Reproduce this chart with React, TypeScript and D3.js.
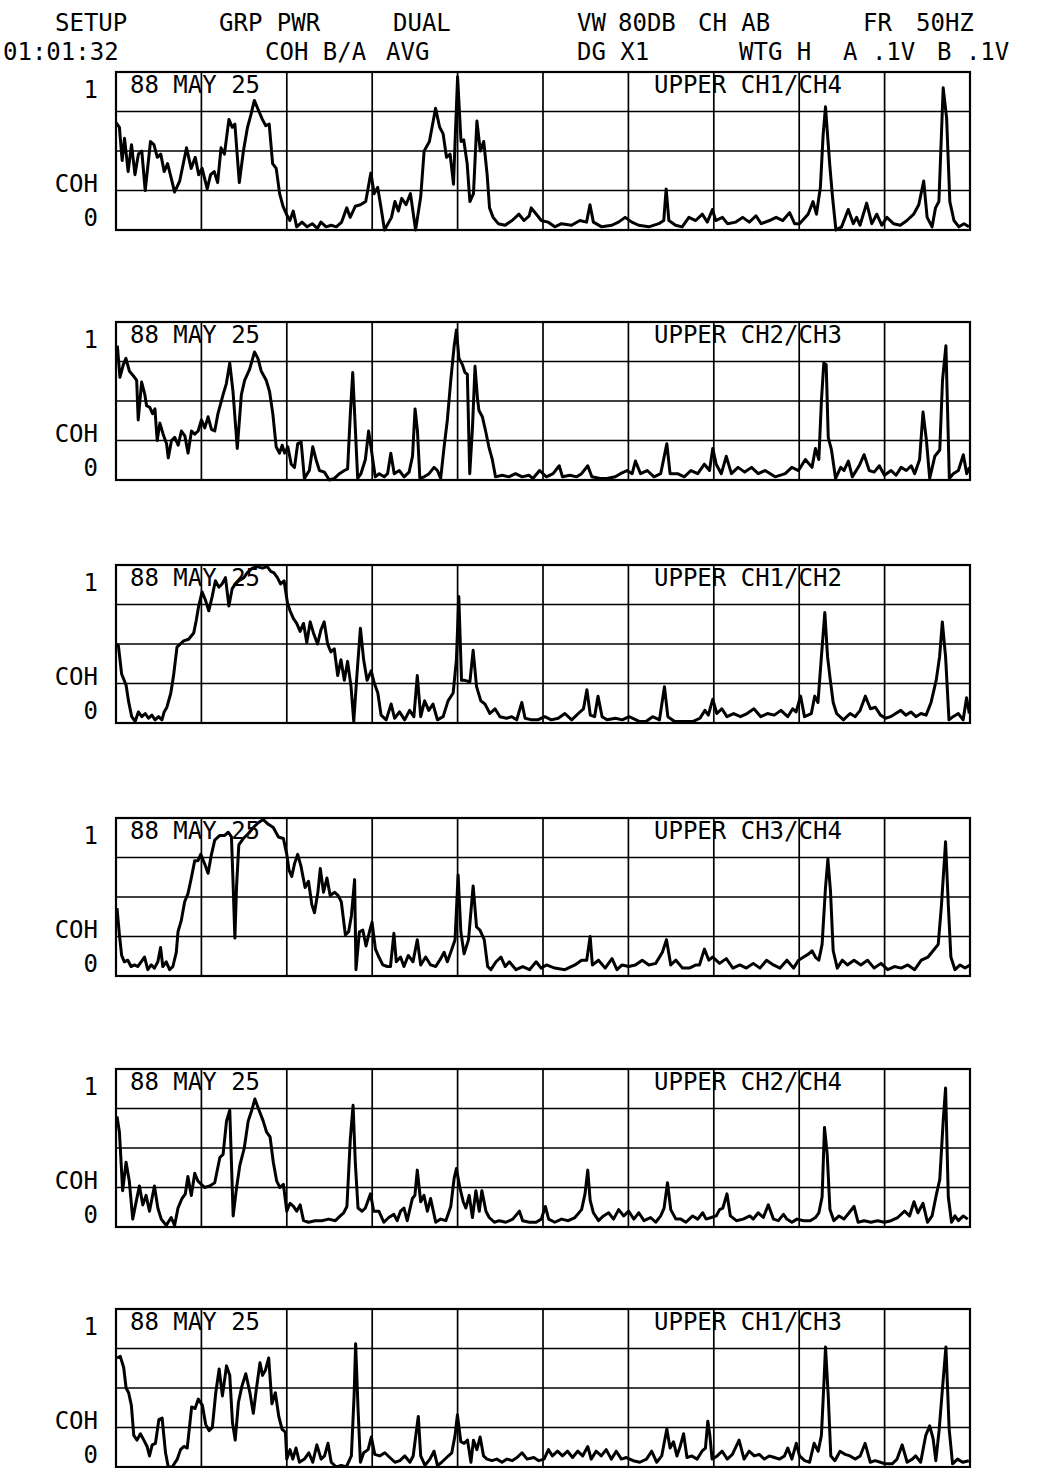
import { useEffect, useRef } from "react";
import * as d3 from "d3";

// header text (two rows of plotter settings)
const headerRow1 = ["SETUP", "GRP PWR", "DUAL", "VW", "80DB", "CH AB", "FR", "50HZ"];
const headerRow2 = ["01:01:32", "COH B/A", "AVG", "DG X1", "WTG H", "A .1V", "B .1V"];

const dateLabel = "88 MAY 25";
const yLabels = ["1", "COH", "0"];
const panelLabels = [
  "UPPER CH1/CH4",
  "UPPER CH2/CH3",
  "UPPER CH1/CH2",
  "UPPER CH3/CH4",
  "UPPER CH2/CH4",
  "UPPER CH1/CH3",
];

// frequency (Hz, 0-50) / coherence (0-1)
const ch14: [number, number][] = [
  [0, 0.68], [0.2, 0.65], [0.36, 0.44], [0.5, 0.58], [0.71, 0.37], [0.91, 0.54], [1.11, 0.35], [1.31, 0.48],
  [1.51, 0.5], [1.71, 0.25], [2.02, 0.56], [2.22, 0.54], [2.42, 0.46], [2.62, 0.48], [2.82, 0.37], [3.02, 0.42],
  [3.23, 0.33], [3.43, 0.24], [3.73, 0.31], [4.13, 0.52], [4.4, 0.39], [4.64, 0.46], [4.84, 0.35], [5.04, 0.39],
  [5.34, 0.26], [5.54, 0.35], [5.75, 0.37], [5.95, 0.3], [6.15, 0.52], [6.35, 0.48], [6.61, 0.7], [6.81, 0.65],
  [6.96, 0.67], [7.22, 0.3], [7.46, 0.5], [7.7, 0.65], [7.9, 0.73], [8.1, 0.82], [8.37, 0.75], [8.57, 0.7],
  [8.77, 0.66], [8.97, 0.67], [9.17, 0.42], [9.38, 0.39], [9.58, 0.23], [9.78, 0.15], [9.98, 0.1], [10.18, 0.06],
  [10.38, 0.12], [10.58, 0.02], [10.89, 0.05], [11.19, 0.02], [11.49, 0.04], [11.79, 0.01], [12, 0.05], [12.3, 0.02],
  [12.6, 0.03], [12.9, 0.02], [13.21, 0.05], [13.51, 0.14], [13.71, 0.08], [14.01, 0.15], [14.31, 0.16], [14.62, 0.18],
  [14.92, 0.36], [15.12, 0.23], [15.32, 0.27], [15.52, 0.14], [15.72, 0], [16.13, 0.08], [16.33, 0.18], [16.53, 0.12],
  [16.73, 0.2], [16.98, 0.16], [17.24, 0.23], [17.54, 0], [17.84, 0.21], [18.04, 0.5], [18.35, 0.56], [18.71, 0.77],
  [18.95, 0.65], [19.15, 0.61], [19.35, 0.46], [19.56, 0.48], [19.76, 0.29], [19.86, 0.58], [20, 0.97], [20.2, 0.56],
  [20.36, 0.57], [20.56, 0.42], [20.72, 0.18], [20.93, 0.23], [21.13, 0.69], [21.33, 0.5], [21.53, 0.56], [21.73, 0.35],
  [21.87, 0.14], [22.08, 0.08], [22.38, 0.04], [22.78, 0.03], [23.19, 0.06], [23.59, 0.1], [23.89, 0.06], [24.19, 0.09],
  [24.31, 0.14], [24.61, 0.1], [24.9, 0.06], [25.29, 0.05], [25.69, 0.02], [26.08, 0.04], [26.67, 0.03], [27.16, 0.06],
  [27.55, 0.05], [27.75, 0.16], [27.95, 0.05], [28.44, 0.02], [29.03, 0.03], [29.42, 0.05], [29.81, 0.08], [30.2, 0.05],
  [30.6, 0.03], [31.19, 0.02], [31.78, 0.04], [32.07, 0.06], [32.21, 0.26], [32.37, 0.06], [32.76, 0.03], [33.15, 0.02],
  [33.54, 0.08], [33.94, 0.06], [34.33, 0.1], [34.62, 0.05], [34.92, 0.13], [35.11, 0.06], [35.51, 0.08], [35.8, 0.04],
  [36.29, 0.05], [36.69, 0.08], [37.08, 0.05], [37.47, 0.09], [37.77, 0.04], [38.26, 0.06], [38.65, 0.08], [39.04, 0.06],
  [39.44, 0.11], [39.73, 0.04], [40.02, 0.04], [40.52, 0.1], [40.81, 0.18], [41.01, 0.1], [41.24, 0.27], [41.4, 0.6],
  [41.54, 0.78], [41.66, 0.6], [41.79, 0.41], [41.95, 0.21], [42.15, 0], [42.48, 0.02], [42.87, 0.13], [43.17, 0.04],
  [43.36, 0.08], [43.56, 0.03], [43.95, 0.17], [44.25, 0.04], [44.54, 0.1], [44.84, 0.03], [45.13, 0.08], [45.52, 0.04],
  [45.92, 0.03], [46.31, 0.06], [46.7, 0.1], [47, 0.16], [47.29, 0.31], [47.49, 0.08], [47.78, 0.02], [47.98, 0.14],
  [48.18, 0.18], [48.43, 0.9], [48.63, 0.71], [48.82, 0.18], [49.06, 0.06], [49.35, 0.02], [49.65, 0.04], [49.94, 0.02],
];

const ch23: [number, number][] = [
  [0.08, 0.85], [0.23, 0.65], [0.43, 0.73], [0.58, 0.77], [0.78, 0.69], [1.01, 0.66], [1.21, 0.63], [1.3, 0.38],
  [1.5, 0.62], [1.69, 0.54], [1.79, 0.47], [1.98, 0.46], [2.14, 0.42], [2.28, 0.45], [2.41, 0.25], [2.57, 0.36],
  [2.76, 0.29], [2.96, 0.23], [3.06, 0.14], [3.25, 0.25], [3.44, 0.27], [3.64, 0.22], [3.83, 0.31], [4.03, 0.28],
  [4.22, 0.17], [4.42, 0.31], [4.61, 0.29], [4.81, 0.31], [5, 0.38], [5.2, 0.33], [5.39, 0.4], [5.59, 0.32],
  [5.78, 0.31], [5.97, 0.42], [6.27, 0.54], [6.46, 0.61], [6.66, 0.74], [6.85, 0.56], [7.1, 0.2], [7.34, 0.54],
  [7.53, 0.63], [7.82, 0.7], [8.11, 0.81], [8.31, 0.77], [8.5, 0.69], [8.8, 0.63], [8.99, 0.56], [9.18, 0.42],
  [9.38, 0.21], [9.57, 0.17], [9.73, 0.22], [9.87, 0.17], [10.06, 0.21], [10.26, 0.1], [10.45, 0.08], [10.64, 0.23],
  [10.84, 0.24], [11.03, 0.01], [11.32, 0.06], [11.52, 0.21], [11.71, 0.13], [11.91, 0.06], [12.2, 0.05], [12.49, 0],
  [12.79, 0.01], [13.08, 0.04], [13.37, 0.06], [13.56, 0.07], [13.72, 0.42], [13.86, 0.68], [14.01, 0.33], [14.15, 0.01],
  [14.34, 0.04], [14.6, 0.13], [14.79, 0.31], [14.98, 0.17], [15.18, 0.02], [15.41, 0.04], [15.7, 0.02], [15.9, 0.04],
  [16.09, 0.17], [16.29, 0.04], [16.58, 0.06], [16.87, 0.02], [17.16, 0.05], [17.36, 0.15], [17.51, 0.45], [17.65, 0.31],
  [17.79, 0.01], [18.04, 0.02], [18.33, 0.04], [18.62, 0.08], [18.82, 0.06], [19.01, 0.01], [19.21, 0.21], [19.4, 0.38],
  [19.6, 0.63], [19.79, 0.84], [19.93, 0.95], [20.08, 0.77], [20.28, 0.73], [20.43, 0.68], [20.57, 0.67], [20.71, 0.04],
  [20.87, 0.33], [21.02, 0.72], [21.16, 0.52], [21.25, 0.44], [21.45, 0.4], [21.64, 0.31], [21.83, 0.21], [22.03, 0.13],
  [22.22, 0.02], [22.61, 0.03], [23, 0.02], [23.39, 0.04], [23.78, 0.02], [24.17, 0.03], [24.41, 0.01], [24.8, 0.06],
  [25.2, 0.02], [25.59, 0.04], [25.95, 0.09], [26.14, 0.02], [26.58, 0.03], [26.97, 0.02], [27.26, 0.04], [27.62, 0.09],
  [27.86, 0.02], [28.35, 0.01], [28.74, 0.01], [29.23, 0.02], [29.53, 0.04], [29.92, 0.06], [30.22, 0.04], [30.41, 0.12],
  [30.71, 0.04], [31.1, 0.06], [31.5, 0.02], [31.89, 0.04], [32.25, 0.23], [32.44, 0.04], [32.88, 0.04], [33.27, 0.02],
  [33.66, 0.06], [34.06, 0.04], [34.45, 0.1], [34.75, 0.06], [34.94, 0.2], [35.14, 0.1], [35.44, 0.04], [35.73, 0.15],
  [36.03, 0.04], [36.42, 0.08], [36.81, 0.05], [37.21, 0.08], [37.6, 0.04], [38, 0.06], [38.59, 0.02], [39.18, 0.04],
  [39.57, 0.08], [39.96, 0.06], [40.36, 0.13], [40.75, 0.08], [40.95, 0.2], [41.15, 0.13], [41.3, 0.5], [41.44, 0.74],
  [41.58, 0.73], [41.7, 0.27], [41.89, 0.19], [42.13, 0.01], [42.43, 0.08], [42.62, 0.06], [42.88, 0.12], [43.11, 0.02],
  [43.51, 0.09], [43.8, 0.16], [44.1, 0.06], [44.39, 0.05], [44.69, 0.09], [44.99, 0.03], [45.38, 0.06], [45.67, 0.03],
  [45.97, 0.08], [46.27, 0.06], [46.56, 0.09], [46.76, 0.04], [47.05, 0.13], [47.25, 0.43], [47.45, 0.25], [47.64, 0.01],
  [47.94, 0.15], [48.23, 0.19], [48.39, 0.63], [48.59, 0.85], [48.79, 0.01], [49.02, 0.04], [49.32, 0.06], [49.61, 0.16],
  [49.81, 0.04], [49.97, 0.08],
];

const ch12: [number, number][] = [
  [0, 0.5], [0.14, 0.49], [0.33, 0.31], [0.59, 0.24], [0.73, 0.14], [0.92, 0.04], [1.12, 0.01], [1.31, 0.07],
  [1.51, 0.04], [1.71, 0.06], [1.9, 0.03], [2.1, 0.05], [2.29, 0.02], [2.49, 0.04], [2.69, 0.02], [2.82, 0.07],
  [2.98, 0.1], [3.21, 0.19], [3.37, 0.3], [3.57, 0.48], [3.76, 0.5], [3.96, 0.52], [4.25, 0.53], [4.55, 0.57],
  [4.7, 0.65], [4.84, 0.74], [5.04, 0.83], [5.23, 0.78], [5.43, 0.71], [5.63, 0.8], [5.82, 0.9], [6.02, 0.86],
  [6.21, 0.88], [6.41, 0.92], [6.61, 0.74], [6.8, 0.85], [7, 0.88], [7.19, 0.9], [7.49, 0.92], [7.68, 0.95],
  [7.98, 0.98], [8.27, 0.99], [8.57, 0.98], [8.86, 0.99], [9.06, 0.96], [9.25, 0.95], [9.45, 0.92], [9.64, 0.88],
  [9.84, 0.9], [10.04, 0.76], [10.19, 0.71], [10.39, 0.66], [10.58, 0.63], [10.78, 0.58], [10.98, 0.63], [11.17, 0.51],
  [11.37, 0.64], [11.56, 0.57], [11.8, 0.5], [12, 0.59], [12.19, 0.64], [12.39, 0.5], [12.58, 0.45], [12.78, 0.47],
  [12.98, 0.3], [13.17, 0.4], [13.37, 0.27], [13.56, 0.39], [13.76, 0.23], [13.92, 0.01], [14.11, 0.31], [14.31, 0.6],
  [14.5, 0.4], [14.7, 0.27], [14.94, 0.33], [15.13, 0.25], [15.33, 0.19], [15.52, 0.05], [15.82, 0.02], [16.11, 0.12],
  [16.31, 0.03], [16.6, 0.07], [16.9, 0.02], [17.19, 0.08], [17.44, 0.04], [17.64, 0.3], [17.84, 0.04], [18.07, 0.14],
  [18.31, 0.08], [18.56, 0.12], [18.82, 0.02], [19.15, 0.04], [19.44, 0.14], [19.74, 0.19], [19.93, 0.4], [20.07, 0.8],
  [20.23, 0.27], [20.42, 0.27], [20.72, 0.26], [20.91, 0.46], [21.11, 0.23], [21.36, 0.14], [21.6, 0.12], [21.89, 0.06],
  [22.19, 0.09], [22.48, 0.04], [22.87, 0.03], [23.17, 0.04], [23.46, 0.02], [23.76, 0.13], [23.95, 0.03], [24.35, 0.02],
  [24.7, 0.02], [25.1, 0.04], [25.49, 0.02], [25.89, 0.03], [26.28, 0.06], [26.68, 0.02], [27.07, 0.06], [27.37, 0.09],
  [27.57, 0.21], [27.77, 0.05], [28.02, 0.04], [28.22, 0.17], [28.46, 0.04], [28.75, 0.02], [29.25, 0.03], [29.64, 0.02],
  [30.04, 0.04], [30.63, 0.01], [31.03, 0.01], [31.42, 0.04], [31.82, 0.02], [32.11, 0.23], [32.31, 0.04], [32.71, 0.01],
  [33.2, 0.01], [33.79, 0.01], [34.19, 0.03], [34.48, 0.08], [34.68, 0.05], [34.94, 0.15], [35.18, 0.06], [35.47, 0.09],
  [35.77, 0.04], [36.16, 0.06], [36.56, 0.04], [36.95, 0.06], [37.35, 0.09], [37.75, 0.04], [38.14, 0.06], [38.54, 0.05],
  [38.93, 0.08], [39.33, 0.04], [39.62, 0.09], [39.82, 0.07], [40.08, 0.17], [40.31, 0.04], [40.71, 0.06], [40.91, 0.17],
  [41.1, 0.13], [41.3, 0.42], [41.5, 0.7], [41.66, 0.42], [41.8, 0.29], [41.99, 0.13], [42.19, 0.06], [42.59, 0.02],
  [42.98, 0.06], [43.28, 0.04], [43.57, 0.08], [43.87, 0.17], [44.17, 0.09], [44.46, 0.1], [44.76, 0.05], [45.06, 0.03],
  [45.35, 0.04], [45.65, 0.06], [45.95, 0.08], [46.24, 0.05], [46.54, 0.07], [46.83, 0.04], [47.13, 0.06], [47.43, 0.05],
  [47.72, 0.13], [48.02, 0.27], [48.22, 0.42], [48.38, 0.64], [48.57, 0.42], [48.77, 0.02], [49.01, 0.04], [49.31, 0.06],
  [49.6, 0.02], [49.8, 0.16], [49.96, 0.06],
];

const ch34: [number, number][] = [
  [0.06, 0.43], [0.2, 0.26], [0.33, 0.13], [0.49, 0.09], [0.69, 0.1], [0.88, 0.06], [1.08, 0.07], [1.27, 0.06],
  [1.47, 0.09], [1.67, 0.12], [1.86, 0.04], [2.06, 0.07], [2.25, 0.05], [2.45, 0.09], [2.61, 0.18], [2.74, 0.06],
  [2.94, 0.09], [3.14, 0.04], [3.33, 0.06], [3.53, 0.15], [3.63, 0.28], [3.82, 0.35], [4.02, 0.47], [4.21, 0.52],
  [4.41, 0.62], [4.61, 0.73], [4.8, 0.73], [4.96, 0.77], [5.19, 0.71], [5.39, 0.65], [5.59, 0.77], [5.78, 0.86],
  [6.08, 0.89], [6.37, 0.89], [6.57, 0.91], [6.76, 0.88], [6.86, 0.57], [6.96, 0.24], [7.06, 0.57], [7.19, 0.83],
  [7.45, 0.87], [7.74, 0.9], [8.04, 0.94], [8.33, 0.97], [8.62, 0.99], [8.92, 0.96], [9.21, 0.94], [9.51, 0.88],
  [9.8, 0.87], [10, 0.77], [10.13, 0.67], [10.29, 0.63], [10.45, 0.71], [10.64, 0.77], [10.84, 0.69], [11.07, 0.56],
  [11.27, 0.6], [11.47, 0.45], [11.62, 0.4], [11.82, 0.53], [11.96, 0.68], [12.15, 0.53], [12.35, 0.62], [12.54, 0.51],
  [12.8, 0.53], [13, 0.51], [13.19, 0.47], [13.43, 0.26], [13.62, 0.28], [13.78, 0.38], [13.97, 0.61], [14.05, 0.04],
  [14.25, 0.28], [14.45, 0.29], [14.64, 0.19], [14.84, 0.28], [14.99, 0.34], [15.19, 0.17], [15.39, 0.12], [15.62, 0.07],
  [15.88, 0.06], [16.07, 0.06], [16.27, 0.27], [16.41, 0.09], [16.66, 0.12], [16.86, 0.06], [17.11, 0.13], [17.39, 0.09],
  [17.64, 0.23], [17.84, 0.07], [18.13, 0.12], [18.42, 0.07], [18.72, 0.06], [19.01, 0.11], [19.21, 0.15], [19.4, 0.09],
  [19.66, 0.17], [19.85, 0.23], [20.03, 0.64], [20.19, 0.28], [20.38, 0.14], [20.64, 0.23], [20.91, 0.57], [21.11, 0.31],
  [21.31, 0.29], [21.56, 0.23], [21.76, 0.06], [21.95, 0.04], [22.25, 0.09], [22.54, 0.12], [22.79, 0.06], [23.03, 0.09],
  [23.42, 0.04], [23.81, 0.06], [24.21, 0.04], [24.6, 0.09], [24.89, 0.05], [25.2, 0.07], [25.69, 0.05], [26.28, 0.04],
  [26.87, 0.07], [27.26, 0.1], [27.56, 0.1], [27.76, 0.25], [27.89, 0.07], [28.25, 0.1], [28.64, 0.05], [29.04, 0.11],
  [29.33, 0.04], [29.63, 0.07], [30.02, 0.06], [30.41, 0.07], [30.81, 0.1], [31.2, 0.07], [31.6, 0.08], [31.99, 0.15],
  [32.23, 0.23], [32.48, 0.07], [32.78, 0.1], [33.17, 0.05], [33.57, 0.05], [33.96, 0.07], [34.16, 0.07], [34.45, 0.17],
  [34.71, 0.1], [34.94, 0.12], [35.34, 0.08], [35.73, 0.11], [36.12, 0.05], [36.52, 0.07], [36.91, 0.05], [37.31, 0.08],
  [37.7, 0.05], [38.09, 0.1], [38.49, 0.07], [38.88, 0.05], [39.28, 0.1], [39.67, 0.05], [39.96, 0.1], [40.26, 0.12],
  [40.56, 0.14], [40.75, 0.16], [40.95, 0.12], [41.15, 0.1], [41.34, 0.2], [41.54, 0.56], [41.68, 0.74], [41.83, 0.54],
  [41.99, 0.16], [42.23, 0.05], [42.52, 0.1], [42.82, 0.07], [43.21, 0.1], [43.61, 0.07], [44, 0.1], [44.39, 0.05],
  [44.79, 0.08], [45.18, 0.04], [45.58, 0.06], [45.97, 0.05], [46.36, 0.07], [46.76, 0.04], [47.15, 0.1], [47.54, 0.12],
  [47.84, 0.16], [48.14, 0.2], [48.33, 0.45], [48.57, 0.85], [48.73, 0.45], [48.88, 0.12], [49.12, 0.04], [49.42, 0.07],
  [49.71, 0.05], [50, 0.07],
];

const ch24: [number, number][] = [
  [0.06, 0.7], [0.2, 0.6], [0.39, 0.23], [0.59, 0.41], [0.78, 0.29], [0.98, 0.05], [1.18, 0.16], [1.37, 0.26],
  [1.57, 0.14], [1.76, 0.2], [1.96, 0.1], [2.25, 0.26], [2.45, 0.12], [2.65, 0.05], [2.94, 0.01], [3.23, 0.06],
  [3.43, 0.01], [3.63, 0.12], [3.86, 0.18], [4.06, 0.21], [4.21, 0.32], [4.41, 0.2], [4.61, 0.34], [4.8, 0.29],
  [5, 0.27], [5.19, 0.25], [5.49, 0.26], [5.78, 0.28], [6.08, 0.44], [6.27, 0.46], [6.47, 0.67], [6.66, 0.74],
  [6.86, 0.07], [7.06, 0.25], [7.25, 0.39], [7.51, 0.5], [7.74, 0.67], [7.98, 0.75], [8.13, 0.81], [8.37, 0.74],
  [8.62, 0.67], [8.82, 0.6], [9.02, 0.57], [9.21, 0.41], [9.41, 0.29], [9.6, 0.25], [9.8, 0.27], [10, 0.1],
  [10.19, 0.15], [10.39, 0.13], [10.58, 0.1], [10.78, 0.14], [10.98, 0.04], [11.27, 0.03], [11.66, 0.04], [12.05, 0.04],
  [12.45, 0.05], [12.84, 0.04], [13.13, 0.07], [13.33, 0.09], [13.52, 0.13], [13.72, 0.56], [13.88, 0.77], [14.01, 0.41],
  [14.17, 0.12], [14.41, 0.1], [14.6, 0.12], [14.9, 0.21], [15.09, 0.1], [15.39, 0.1], [15.68, 0.03], [15.97, 0.06],
  [16.27, 0.08], [16.46, 0.04], [16.66, 0.1], [16.86, 0.12], [17.05, 0.04], [17.35, 0.18], [17.5, 0.2], [17.64, 0.36],
  [17.84, 0.16], [18.03, 0.2], [18.23, 0.1], [18.42, 0.18], [18.72, 0.03], [19.01, 0.05], [19.31, 0.04], [19.6, 0.13],
  [19.8, 0.31], [19.93, 0.37], [20.13, 0.25], [20.33, 0.16], [20.48, 0.12], [20.68, 0.2], [20.87, 0.06], [21.07, 0.23],
  [21.27, 0.1], [21.42, 0.23], [21.66, 0.1], [21.85, 0.06], [22.15, 0.03], [22.44, 0.04], [22.83, 0.03], [23.23, 0.05],
  [23.62, 0.1], [23.81, 0.04], [24.21, 0.03], [24.6, 0.03], [24.9, 0.05], [25.14, 0.13], [25.33, 0.05], [25.69, 0.03],
  [26.08, 0.05], [26.48, 0.04], [26.87, 0.06], [27.26, 0.11], [27.46, 0.21], [27.62, 0.36], [27.76, 0.17], [27.95, 0.09],
  [28.25, 0.04], [28.54, 0.07], [28.84, 0.09], [29.13, 0.05], [29.43, 0.11], [29.73, 0.07], [30.02, 0.1], [30.32, 0.05],
  [30.61, 0.09], [30.91, 0.04], [31.3, 0.06], [31.6, 0.03], [31.89, 0.07], [32.09, 0.12], [32.29, 0.28], [32.48, 0.11],
  [32.78, 0.05], [33.07, 0.05], [33.37, 0.03], [33.76, 0.07], [34.06, 0.05], [34.35, 0.09], [34.55, 0.05], [34.85, 0.06],
  [35.14, 0.07], [35.34, 0.11], [35.53, 0.12], [35.77, 0.21], [35.97, 0.07], [36.32, 0.04], [36.72, 0.05], [37.11, 0.07],
  [37.31, 0.05], [37.6, 0.09], [37.9, 0.06], [38.19, 0.14], [38.49, 0.05], [38.78, 0.04], [39.08, 0.08], [39.28, 0.05],
  [39.57, 0.03], [39.87, 0.05], [40.26, 0.04], [40.65, 0.04], [40.95, 0.06], [41.15, 0.09], [41.34, 0.19], [41.48, 0.63],
  [41.64, 0.46], [41.8, 0.11], [42.03, 0.04], [42.33, 0.07], [42.62, 0.05], [42.92, 0.09], [43.21, 0.13], [43.45, 0.03],
  [43.8, 0.04], [44.2, 0.03], [44.59, 0.04], [44.99, 0.03], [45.38, 0.04], [45.77, 0.06], [46.17, 0.1], [46.46, 0.07],
  [46.72, 0.16], [46.95, 0.09], [47.25, 0.15], [47.51, 0.03], [47.78, 0.07], [48.04, 0.21], [48.23, 0.3], [48.43, 0.67],
  [48.57, 0.88], [48.73, 0.19], [48.92, 0.03], [49.12, 0.07], [49.32, 0.04], [49.61, 0.07], [49.87, 0.05],
];

const ch13: [number, number][] = [
  [0.06, 0.69], [0.25, 0.7], [0.45, 0.63], [0.59, 0.5], [0.74, 0.47], [0.9, 0.39], [1.04, 0.2], [1.23, 0.17],
  [1.43, 0.21], [1.63, 0.17], [1.82, 0.13], [1.96, 0.07], [2.12, 0.14], [2.31, 0.15], [2.51, 0.3], [2.7, 0.31],
  [2.9, 0.09], [3.06, 0], [3.29, 0], [3.59, 0.05], [3.78, 0.11], [3.98, 0.13], [4.17, 0.12], [4.43, 0.38],
  [4.63, 0.37], [4.82, 0.43], [5.06, 0.39], [5.25, 0.27], [5.45, 0.23], [5.64, 0.25], [5.84, 0.47], [6.04, 0.62],
  [6.23, 0.45], [6.47, 0.64], [6.66, 0.58], [6.82, 0.28], [6.98, 0.17], [7.17, 0.41], [7.37, 0.51], [7.6, 0.59],
  [7.84, 0.47], [8.04, 0.34], [8.19, 0.47], [8.43, 0.66], [8.58, 0.58], [8.74, 0.61], [8.94, 0.69], [9.13, 0.4],
  [9.33, 0.47], [9.53, 0.32], [9.72, 0.24], [9.92, 0.22], [10, 0.05], [10.19, 0.11], [10.35, 0.05], [10.54, 0.12],
  [10.74, 0.03], [11.03, 0.05], [11.29, 0.09], [11.52, 0.03], [11.76, 0.14], [12.01, 0.05], [12.21, 0.07], [12.41, 0.15],
  [12.6, 0.03], [12.9, 0], [13.19, 0.01], [13.48, 0], [13.78, 0.07], [13.94, 0.45], [14.03, 0.78], [14.17, 0.37],
  [14.31, 0.03], [14.5, 0.09], [14.76, 0.11], [14.95, 0.19], [15.15, 0.08], [15.44, 0.07], [15.74, 0.09], [16.03, 0.06],
  [16.33, 0.03], [16.62, 0.04], [16.91, 0.07], [17.21, 0.03], [17.4, 0.07], [17.6, 0.24], [17.7, 0.32], [17.84, 0.07],
  [18.09, 0.01], [18.38, 0.05], [18.62, 0.1], [18.82, 0.01], [19.07, 0.03], [19.36, 0.06], [19.66, 0.09], [19.85, 0.2],
  [19.99, 0.33], [20.19, 0.16], [20.38, 0.15], [20.58, 0.17], [20.78, 0.03], [20.93, 0.17], [21.13, 0.11], [21.32, 0.19],
  [21.52, 0.07], [21.72, 0.05], [22.01, 0.04], [22.3, 0.05], [22.6, 0.03], [22.89, 0.05], [23.19, 0.04], [23.48, 0.06],
  [23.77, 0.09], [24.07, 0.05], [24.46, 0.06], [24.75, 0.04], [25.06, 0.05], [25.32, 0.11], [25.55, 0.07], [25.85, 0.1],
  [26.14, 0.07], [26.44, 0.1], [26.73, 0.06], [27.03, 0.1], [27.32, 0.07], [27.62, 0.13], [27.82, 0.05], [28.11, 0.1],
  [28.41, 0.07], [28.7, 0.11], [29, 0.05], [29.29, 0.1], [29.59, 0.05], [29.88, 0.06], [30.28, 0.04], [30.67, 0.03],
  [31.06, 0.05], [31.36, 0.1], [31.66, 0.03], [31.95, 0.07], [32.25, 0.24], [32.44, 0.12], [32.64, 0.16], [32.84, 0.07],
  [33.03, 0.13], [33.23, 0.21], [33.43, 0.06], [33.72, 0.07], [34.02, 0.05], [34.31, 0.1], [34.51, 0.12], [34.65, 0.29],
  [34.77, 0.2], [34.9, 0.05], [35.2, 0.07], [35.49, 0.1], [35.79, 0.05], [36.09, 0.08], [36.48, 0.17], [36.77, 0.05],
  [37.07, 0.1], [37.37, 0.07], [37.66, 0.08], [37.96, 0.05], [38.25, 0.07], [38.55, 0.06], [38.84, 0.05], [39.14, 0.07],
  [39.33, 0.12], [39.57, 0.05], [39.83, 0.15], [40.02, 0.07], [40.32, 0.04], [40.61, 0.03], [40.87, 0.15], [41.11, 0.1],
  [41.3, 0.2], [41.46, 0.56], [41.54, 0.76], [41.7, 0.45], [41.85, 0.07], [42.09, 0.04], [42.39, 0.1], [42.68, 0.08],
  [42.98, 0.07], [43.27, 0.05], [43.57, 0.07], [43.86, 0.15], [44.16, 0.03], [44.45, 0.04], [44.75, 0.03], [45.04, 0.02],
  [45.44, 0.02], [45.73, 0.05], [46.03, 0.14], [46.32, 0.03], [46.62, 0.05], [46.82, 0.07], [47.11, 0.03], [47.41, 0.2],
  [47.64, 0.26], [47.84, 0.18], [48, 0.04], [48.19, 0.23], [48.39, 0.5], [48.59, 0.76], [48.78, 0.24], [48.98, 0.02],
  [49.27, 0.05], [49.57, 0.03], [49.93, 0.04],
];

const series = [ch14, ch23, ch12, ch34, ch24, ch13];

// layout
const W = 1048;
const H = 1468;
const LEFT = 116;
const RIGHT = 970;
const PANEL_H = 158;
const panelTops = [72, 322, 565, 818, 1069, 1309];
const headerRow1X = [55, 219, 393, 577, 618, 698, 863, 916];
const headerRow2X = [3, 265, 386, 577, 739, 843, 937];
const FONT = "'DejaVu Sans Mono', 'Liberation Mono', monospace";

export default function App() {
  const ref = useRef<SVGSVGElement | null>(null);

  useEffect(() => {
    const svg = d3.select(ref.current);
    svg.selectAll("*").remove();

    const x = d3.scaleLinear().domain([0, 50]).range([LEFT, RIGHT]);

    const label = (txt: string, px: number, py: number, anchor = "start") =>
      svg
        .append("text")
        .attr("x", px)
        .attr("y", py)
        .attr("text-anchor", anchor)
        .attr("font-family", FONT)
        .attr("font-size", 24)
        .attr("fill", "#000")
        .text(txt);

    headerRow1.forEach((t, i) => label(t, headerRow1X[i], 31));
    headerRow2.forEach((t, i) => label(t, headerRow2X[i], 60));

    series.forEach((data, i) => {
      const top = panelTops[i];
      const y = d3.scaleLinear().domain([0, 1]).range([top + PANEL_H, top]);
      const g = svg.append("g");

      // grid: 10 columns of 5 Hz, 4 rows of 0.25
      g.selectAll("line.v")
        .data(d3.range(5, 50, 5))
        .join("line")
        .attr("class", "v")
        .attr("x1", (d) => x(d))
        .attr("x2", (d) => x(d))
        .attr("y1", y(1))
        .attr("y2", y(0))
        .attr("stroke", "#000")
        .attr("stroke-width", 1.7);

      g.selectAll("line.h")
        .data([0.25, 0.5, 0.75])
        .join("line")
        .attr("class", "h")
        .attr("x1", x(0))
        .attr("x2", x(50))
        .attr("y1", (d) => y(d))
        .attr("y2", (d) => y(d))
        .attr("stroke", "#000")
        .attr("stroke-width", 1.7);

      g.append("rect")
        .attr("x", x(0))
        .attr("y", y(1))
        .attr("width", x(50) - x(0))
        .attr("height", y(0) - y(1))
        .attr("fill", "none")
        .attr("stroke", "#000")
        .attr("stroke-width", 2.2);

      const line = d3
        .line<[number, number]>()
        .x((d) => x(d[0]))
        .y((d) => y(d[1]));

      g.append("path")
        .datum(data)
        .attr("fill", "none")
        .attr("stroke", "#000")
        .attr("stroke-width", 3)
        .attr("stroke-linejoin", "round")
        .attr("d", line);

      label(dateLabel, x(0) + 14, top + 21);
      label(panelLabels[i], 654, top + 21);
      label(yLabels[0], 98, top + 26, "end");
      label(yLabels[1], 98, top + 120, "end");
      label(yLabels[2], 98, top + 154, "end");
    });
  }, []);

  return (
    <svg
      ref={ref}
      width={W}
      height={H}
      style={{ position: "absolute", left: 0, top: 0, background: "#fff" }}
    />
  );
}
